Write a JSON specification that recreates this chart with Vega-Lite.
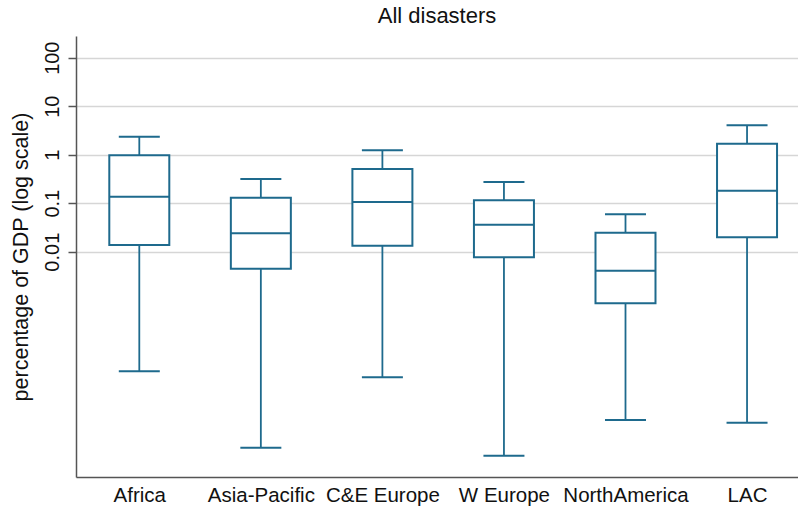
{
  "$schema": "https://vega.github.io/schema/vega-lite/v6.json",
  "width": 722,
  "height": 441,
  "autosize": {"type": "none"},
  "padding": {"left": 76, "top": 36, "right": 0, "bottom": 34},
  "background": "white",
  "title": {"text": "All disasters", "fontSize": 22, "font": "Liberation Sans", "fontWeight": "normal", "color": "#111", "anchor": "middle", "offset": 8},
  "config": {"view": {"stroke": null}, "font": "Liberation Sans"},
  "data": {"values": [
    {"region": "Africa", "low": 3.42e-5, "q1": 0.01374, "median": 0.136, "q3": 0.972, "high": 2.35},
    {"region": "Asia-Pacific", "low": 9.1e-7, "q1": 0.00446, "median": 0.0239, "q3": 0.130, "high": 0.315},
    {"region": "C&E Europe", "low": 2.57e-5, "q1": 0.0133, "median": 0.106, "q3": 0.507, "high": 1.23},
    {"region": "W Europe", "low": 6.2e-7, "q1": 0.00767, "median": 0.036, "q3": 0.115, "high": 0.274},
    {"region": "NorthAmerica", "low": 3.39e-6, "q1": 0.000863, "median": 0.00406, "q3": 0.0247, "high": 0.059},
    {"region": "LAC", "low": 2.98e-6, "q1": 0.0198, "median": 0.181, "q3": 1.69, "high": 4.04}
  ]},
  "encoding": {
    "x": {"field": "region", "type": "nominal", "sort": null,
      "scale": {"type": "point", "padding": 0.47, "align": 0.554},
      "axis": {"title": null, "labelAngle": 0, "labelFontSize": 20.5, "labelColor": "#111", "ticks": false, "labelPadding": 8, "domainColor": "#555", "domainWidth": 1.5, "grid": false}}
  },
  "layer": [
    {
      "mark": {"type": "rule", "color": "#1e6a8d", "strokeWidth": 1.8},
      "encoding": {
        "y": {"field": "low", "type": "quantitative",
          "scale": {"type": "log", "domain": [2.26e-7, 280], "nice": false},
          "axis": {"title": "percentage of GDP (log scale)", "titleFontSize": 21.5, "titleFontWeight": "normal", "titleColor": "#111", "titlePadding": 10,
            "values": [100, 10, 1, 0.1, 0.01], "labelExpr": "datum.value >= 1 ? format(datum.value, 'd') : format(datum.value, '.2~f')",
            "labelAngle": -90, "labelAlign": "center", "labelBaseline": "bottom", "labelFontSize": 20, "labelColor": "#111", "labelPadding": 6,
            "tickSize": 8, "tickColor": "#555", "tickWidth": 1.5, "domainColor": "#555", "domainWidth": 1.5,
            "grid": true, "gridColor": "#d6d6d6", "gridWidth": 1.6}},
        "y2": {"field": "q1"}
      }
    },
    {
      "mark": {"type": "rule", "color": "#1e6a8d", "strokeWidth": 1.8},
      "encoding": {"y": {"field": "q3", "type": "quantitative"}, "y2": {"field": "high"}}
    },
    {
      "mark": {"type": "bar", "width": 60, "fill": "white", "stroke": "#1e6a8d", "strokeWidth": 2},
      "encoding": {"y": {"field": "q1", "type": "quantitative"}, "y2": {"field": "q3"}}
    },
    {
      "mark": {"type": "tick", "size": 60, "thickness": 2, "color": "#1e6a8d", "opacity": 1, "orient": "horizontal"},
      "encoding": {"y": {"field": "median", "type": "quantitative"}}
    },
    {
      "mark": {"type": "tick", "size": 41, "thickness": 2, "color": "#1e6a8d", "opacity": 1, "orient": "horizontal"},
      "encoding": {"y": {"field": "low", "type": "quantitative"}}
    },
    {
      "mark": {"type": "tick", "size": 41, "thickness": 2, "color": "#1e6a8d", "opacity": 1, "orient": "horizontal"},
      "encoding": {"y": {"field": "high", "type": "quantitative"}}
    }
  ]
}
